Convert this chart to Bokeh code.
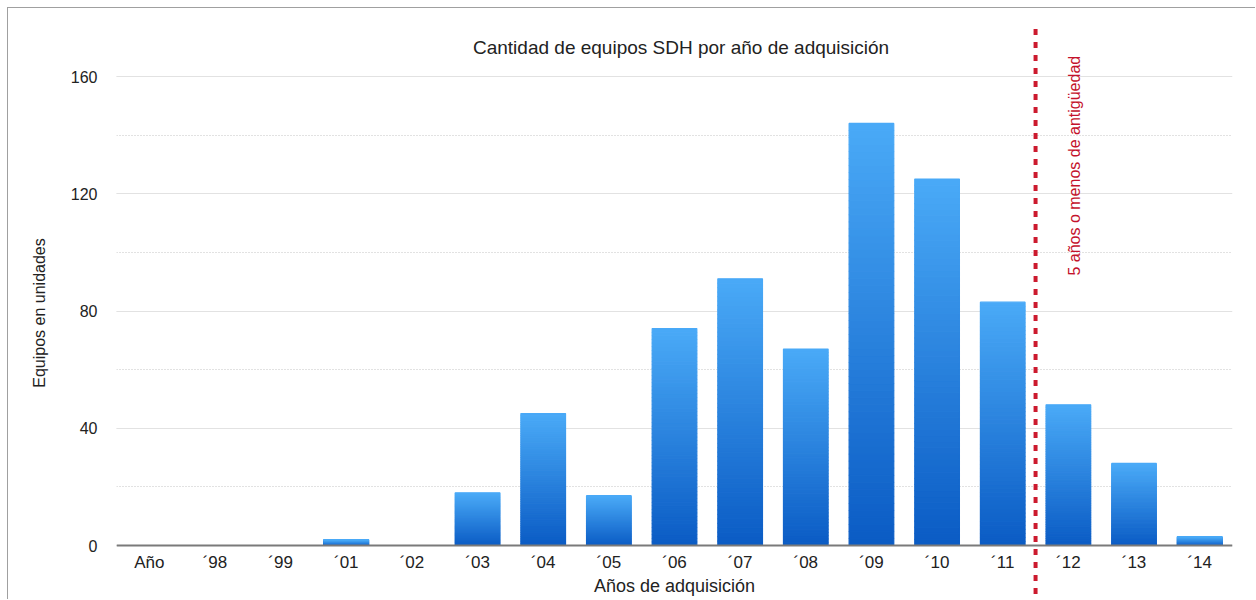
import numpy as np
from bokeh.plotting import figure
from bokeh.models import Range1d, SingleIntervalTicker, Label
from bokeh.core.properties import value
from bokeh.embed import file_html
from bokeh.resources import INLINE

# ---------------- data ----------------
title_text = "Cantidad de equipos SDH por año de adquisición"
categories = ["Año", "´98", "´99", "´01", "´02", "´03", "´04", "´05", "´06",
              "´07", "´08", "´09", "´10", "´11", "´12", "´13", "´14"]
equipos = [0, 0, 0, 2, 0, 18, 45, 17, 74, 91, 67, 144, 125, 83, 48, 28, 3]
y_label = "Equipos en unidades"
x_label = "Años de adquisición"
marker_label = "5 años o menos de antigüedad"
marker_after = "´11"
y_tick_interval = 40

FONT = "Liberation Sans"

p = figure(width=1248, height=592, output_backend="svg", toolbar_location=None,
           x_range=Range1d(-0.5, len(categories) - 0.5),
           y_range=Range1d(-18.76, 177.4),
           x_axis_location=None, min_border_left=108, min_border_right=24,
           min_border_top=17, min_border_bottom=0)
p.outline_line_color = None
p.background_fill_color = "white"
p.border_fill_color = "white"
p.styles = {"margin-left": "7px", "margin-top": "7px",
            "border-top": "1px solid #a0a0a0", "border-left": "1px solid #a0a0a0"}

# y axis & grid
ticker = SingleIntervalTicker(interval=y_tick_interval, num_minor_ticks=2)
p.yaxis.ticker = ticker
p.ygrid.ticker = ticker
p.yaxis.axis_line_color = None
p.yaxis.major_tick_out = 0
p.yaxis.major_tick_in = 0
p.yaxis.minor_tick_out = 0
p.yaxis.minor_tick_in = 0
p.yaxis.major_label_standoff = 19
p.yaxis.major_label_text_font = FONT
p.yaxis.major_label_text_font_size = "16px"
p.yaxis.major_label_text_color = "#222222"
p.yaxis.axis_label = y_label
p.yaxis.axis_label_text_font = FONT
p.yaxis.axis_label_text_font_size = "16px"
p.yaxis.axis_label_text_font_style = "normal"
p.yaxis.axis_label_text_color = "#222222"
p.yaxis.axis_label_standoff = 20
p.ygrid.grid_line_color = "#e2e2e2"
p.ygrid.grid_line_width = 1
p.ygrid.minor_grid_line_color = "#c4c4c4"
p.ygrid.minor_grid_line_dash = "1 2"
for g in p.xgrid:
    g.visible = False

# gradient bars (per-bar vertical gradient, drawn as slices)
N = 60
lo = np.array([0x0a, 0x5b, 0xc4], dtype=float)
hi = np.array([0x4a, 0xaa, 0xf7], dtype=float)
xs, bots, tops, cols = [], [], [], []
for i, v in enumerate(equipos):
    if v <= 0:
        continue
    for k in range(N):
        t = (k + 0.5) / N
        c = lo + (hi - lo) * t
        xs.append(i)
        bots.append(v * k / N)
        tops.append(v * (k + 1) / N)
        cols.append("#%02x%02x%02x" % tuple(int(round(q)) for q in c))
p.vbar(x=xs, bottom=bots, top=tops, width=0.68, fill_color=cols,
       line_color=cols, line_width=1.2)

# baseline
p.segment(x0=[-0.5], y0=[0], x1=[len(categories) - 0.5], y1=[0],
          line_color="#7a7a7a", line_width=2)

# x tick labels
p.text(x=list(range(len(categories))), y=[-5.8] * len(categories), text=categories,
       text_font=value(FONT), text_font_size=value("17px"), text_align="center",
       text_baseline="middle", text_color="#222222")

# x axis title
p.add_layout(Label(x=(len(categories) - 1) / 2, y=-13.7, text=x_label,
                   text_font=FONT, text_font_size="18px", text_align="center",
                   text_baseline="middle", text_color="#222222"))

# chart title
p.add_layout(Label(x=8.1, y=169.9, text=title_text, text_font=FONT,
                   text_font_size="19px", text_align="center",
                   text_baseline="middle", text_color="#222222"))

# dashed marker line
mx = categories.index(marker_after) + 0.5
p.segment(x0=[mx], y0=[-16.5], x1=[mx], y1=[176.5], line_color="#cc1a2e",
          line_width=4, line_dash="6 7")
p.add_layout(Label(x=mx + 0.6, y=92.1, text=marker_label, angle=np.pi / 2,
                   text_font=FONT, text_font_size="16px", text_align="left",
                   text_baseline="middle", text_color="#c4122b"))

open("out.html", "w").write(file_html(p, INLINE))
